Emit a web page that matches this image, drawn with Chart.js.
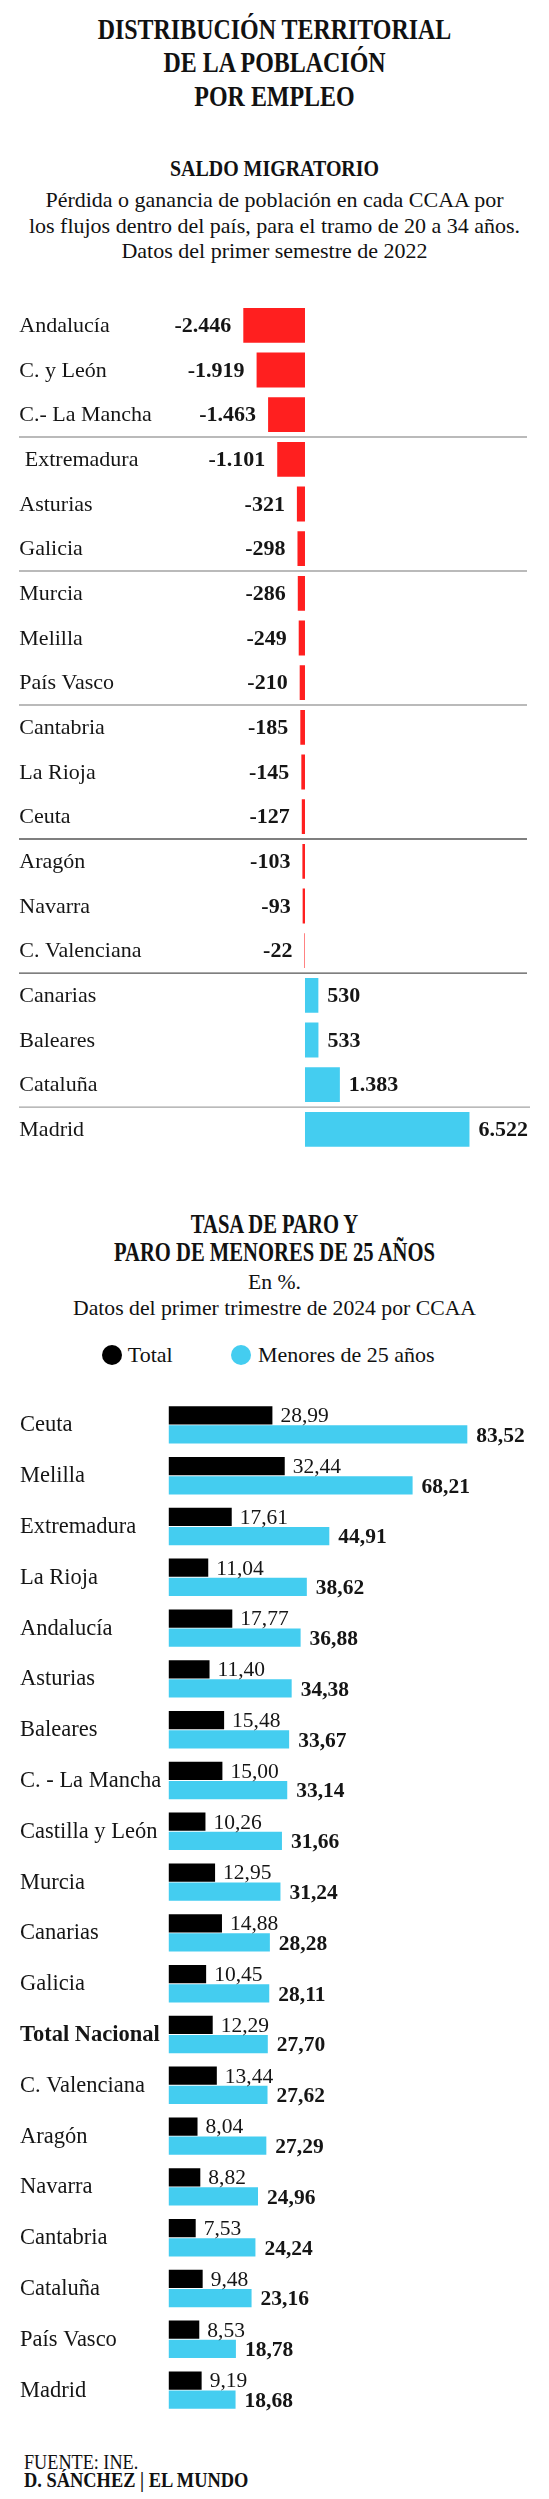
<!DOCTYPE html>
<html lang="es">
<head>
<meta charset="utf-8">
<title>Distribución territorial de la población por empleo</title>
<script src="https://cdn.jsdelivr.net/npm/chart.js@4"></script>
<style>
  html, body { margin: 0; padding: 0; background: #fff; }
  body { width: 549px; height: 2499px; position: relative; overflow: hidden;
         font-family: "Liberation Serif", serif; color: #111; }
  .blk { position: absolute; left: 0; width: 549px; text-align: center; white-space: nowrap; }
  .cond { font-weight: bold; transform-origin: 274.5px 0; }
  .dot { position: absolute; width: 20px; height: 20px; border-radius: 50%; }
  .leg { position: absolute; font-size: 22px; line-height: 22px; white-space: nowrap; }
  .foot { position: absolute; left: 24px; font-size: 20px; line-height: 18.3px; white-space: nowrap;
          transform-origin: 0 0; }
  .box { position: absolute; left: 0; width: 549px; }
</style>
</head>
<body>

<div class="blk cond" style="top:12.6px;font-size:28.5px;line-height:33.5px;transform:scaleX(0.84)">
  DISTRIBUCIÓN TERRITORIAL<br>DE LA POBLACIÓN<br>POR EMPLEO
</div>

<div class="blk cond" style="top:155.9px;font-size:24px;line-height:24px;transform:scaleX(0.83)">SALDO MIGRATORIO</div>
<div class="blk" style="top:187.3px;font-size:22px;line-height:25.2px">
  Pérdida o ganancia de población en cada CCAA por<br>los flujos dentro del país, para el tramo de 20 a 34 años.<br>Datos del primer semestre de 2022
</div>

<div class="box" style="top:280px;height:900px"><canvas id="saldoChart"></canvas></div>

<div class="blk cond" style="top:1209.6px;font-size:26.5px;line-height:28.3px;transform:scaleX(0.778)">
  TASA DE PARO Y<br>PARO DE MENORES DE 25 AÑOS
</div>
<div class="blk" style="top:1268.8px;font-size:21.7px;line-height:26.4px">
  En %.<br>Datos del primer trimestre de 2024 por CCAA
</div>

<div class="dot" style="left:101.8px;top:1345px;background:#000"></div>
<div class="leg" style="left:127.8px;top:1343.6px">Total</div>
<div class="dot" style="left:231.2px;top:1345px;background:#44cdf0"></div>
<div class="leg" style="left:258px;top:1343.6px">Menores de 25 años</div>

<div class="box" style="top:1390px;height:1040px"><canvas id="paroChart"></canvas></div>

<div class="foot" style="top:2453.1px;transform:scaleX(0.91)">FUENTE: INE.</div>
<div class="foot" style="top:2471.4px;font-weight:bold;transform:scaleX(0.92)">D. SÁNCHEZ | EL MUNDO</div>

<script>
// Saldo migratorio (20 a 34 años), primer semestre 2022
const regionesSaldo = ["Andalucía", "C. y León", "C.- La Mancha", " Extremadura", "Asturias", "Galicia",
  "Murcia", "Melilla", "País Vasco", "Cantabria", "La Rioja", "Ceuta", "Aragón", "Navarra",
  "C. Valenciana", "Canarias", "Baleares", "Cataluña", "Madrid"];
const saldo = [-2446, -1919, -1463, -1101, -321, -298, -286, -249, -210, -185, -145, -127, -103, -93,
  -22, 530, 533, 1383, 6522];

// Tasa de paro, primer trimestre 2024
const regionesParo = ["Ceuta", "Melilla", "Extremadura", "La Rioja", "Andalucía", "Asturias", "Baleares",
  "C. - La Mancha", "Castilla y León", "Murcia", "Canarias", "Galicia", "Total Nacional", "C. Valenciana",
  "Aragón", "Navarra", "Cantabria", "Cataluña", "País Vasco", "Madrid"];
const paroTotal = [28.99, 32.44, 17.61, 11.04, 17.77, 11.40, 15.48, 15.00, 10.26, 12.95, 14.88, 10.45,
  12.29, 13.44, 8.04, 8.82, 7.53, 9.48, 8.53, 9.19];
const paroMenores25 = [83.52, 68.21, 44.91, 38.62, 36.88, 34.38, 33.67, 33.14, 31.66, 31.24, 28.28, 28.11,
  27.70, 27.62, 27.29, 24.96, 24.24, 23.16, 18.78, 18.68];

const ROJO = "#ff1f1f";
const AZUL = "#44cdf0";
const SERIF = '"Liberation Serif", serif';

// miles con punto: 2446 -> 2.446
function miles(v) {
  const s = String(Math.abs(v)).replace(/\B(?=(\d{3})+(?!\d))/g, ".");
  return (v < 0 ? "-" : "") + s;
}
function decimal(v) {
  return v.toFixed(2).replace(".", ",");
}

// nombres de CCAA a la izquierda, valores y separadores
const etiquetasSaldo = {
  id: "etiquetasSaldo",
  afterDatasetsDraw(chart) {
    const ctx = chart.ctx;
    const y = chart.scales.y;
    ctx.save();
    // líneas cada tres comunidades
    const cortes = [2, 5, 8, 11, 14, 17];
    const colores = ["#a3a3a3", "#a3a3a3", "#a3a3a3", "#555", "#555", "#a3a3a3"];
    cortes.forEach((i, k) => {
      const yy = (y.getPixelForValue(i) + y.getPixelForValue(i + 1)) / 2;
      ctx.strokeStyle = colores[k];
      ctx.lineWidth = 1.3;
      ctx.beginPath();
      ctx.moveTo(19, yy);
      ctx.lineTo(k === 5 ? 530 : 527, yy);
      ctx.stroke();
    });
    ctx.textBaseline = "alphabetic";
    ctx.fillStyle = "#151515";
    ctx.font = "22px " + SERIF;
    ctx.textAlign = "left";
    regionesSaldo.forEach((r, i) => {
      ctx.fillText(r, 19.3, y.getPixelForValue(i) + 6.5);
    });
    ctx.font = "bold 22px " + SERIF;
    chart.getDatasetMeta(0).data.forEach((bar, i) => {
      const v = saldo[i];
      if (v < 0) {
        ctx.textAlign = "right";
        ctx.fillText(miles(v), bar.x - 12, bar.y + 6.5);
      } else {
        ctx.textAlign = "left";
        ctx.fillText(miles(v), bar.x + 9, bar.y + 6.5);
      }
    });
    ctx.restore();
  }
};

new Chart(document.getElementById("saldoChart"), {
  type: "bar",
  data: {
    labels: regionesSaldo,
    datasets: [{
      data: saldo,
      backgroundColor: saldo.map(v => (v < 0 ? ROJO : AZUL)),
      borderWidth: 0,
      barPercentage: 0.78,
      categoryPercentage: 1
    }]
  },
  options: {
    indexAxis: "y",
    responsive: true,
    maintainAspectRatio: false,
    animation: false,
    layout: { padding: { top: 23, bottom: 28.3, left: 0, right: 0 } },
    scales: {
      x: { display: false, min: -12093, max: 9675 },
      y: { display: false }
    },
    plugins: { legend: { display: false }, tooltip: { enabled: false } }
  },
  plugins: [etiquetasSaldo]
});

const etiquetasParo = {
  id: "etiquetasParo",
  afterDatasetsDraw(chart) {
    const ctx = chart.ctx;
    const y = chart.scales.y;
    ctx.save();
    ctx.textBaseline = "alphabetic";
    ctx.fillStyle = "#151515";
    ctx.textAlign = "left";
    regionesParo.forEach((r, i) => {
      ctx.font = (r === "Total Nacional" ? "bold " : "") + "22.5px " + SERIF;
      ctx.fillText(r, 20, y.getPixelForValue(i) + 6.5);
    });
    ctx.font = "21.5px " + SERIF;
    chart.getDatasetMeta(0).data.forEach((bar, i) => {
      ctx.fillText(decimal(paroTotal[i]), bar.x + 8, bar.y + 6.8);
    });
    ctx.font = "bold 21.5px " + SERIF;
    chart.getDatasetMeta(1).data.forEach((bar, i) => {
      ctx.fillText(decimal(paroMenores25[i]), bar.x + 9, bar.y + 7.3);
    });
    ctx.restore();
  }
};

new Chart(document.getElementById("paroChart"), {
  type: "bar",
  data: {
    labels: regionesParo,
    datasets: [
      { label: "Total", data: paroTotal, backgroundColor: "#000", borderWidth: 0,
        barPercentage: 0.955, categoryPercentage: 0.754 },
      { label: "Menores de 25 años", data: paroMenores25, backgroundColor: AZUL, borderWidth: 0,
        barPercentage: 0.955, categoryPercentage: 0.754 }
    ]
  },
  options: {
    indexAxis: "y",
    responsive: true,
    maintainAspectRatio: false,
    animation: false,
    layout: { padding: { top: 9.5, bottom: 14.5, left: 0, right: 0 } },
    scales: {
      x: { display: false, min: -47.22, max: 106.37 },
      y: { display: false }
    },
    plugins: { legend: { display: false }, tooltip: { enabled: false } }
  },
  plugins: [etiquetasParo]
});
</script>
</body>
</html>
